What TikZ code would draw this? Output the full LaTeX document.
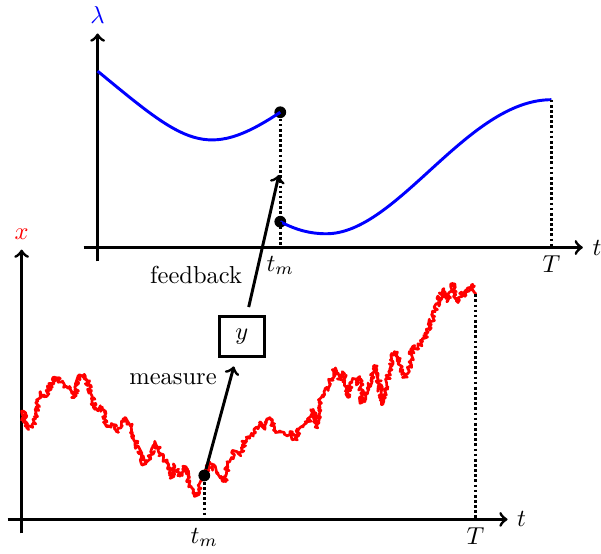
\documentclass[tikz,border=0pt]{standalone}
\usepackage{tikz}
\usetikzlibrary{positioning, calc, decorations.pathmorphing}

\begin{document}
\begin{tikzpicture}[
    axis/.style={very thick, ->},
    guide/.style={line width=1.1pt, densely dotted},
    dot/.style={circle, fill, inner sep=0pt, minimum size=4.8pt},
    obsbox/.style={draw, very thick, minimum width=0.65cm, minimum height=0.57cm, outer sep=4pt},
    link/.style={very thick, ->}
]
    \useasboundingbox (-0.31,-0.49) rectangle (8.31,7.45);
    \pgfmathsetseed{11}

    % Lower plot: the state x
    \draw[axis] (-0.2,0) -- (6.97,0) node[right] (tlo) {$t$};
    \draw[axis] (0,-0.2) -- (0,3.87) node[above, red] (xlab) {$x$};

    \draw[red, line width=1.1pt, line join=round, decorate,
          decoration={random steps, segment length=0.5pt, amplitude=1.1pt}]
        plot coordinates {(0,1.41) (0.03,1.55) (0.07,1.32) (0.16,1.32) (0.21,1.51)
        (0.26,1.82) (0.33,1.76) (0.37,1.84) (0.47,2.04) (0.57,1.97) (0.64,1.91)
        (0.69,1.87) (0.76,1.75) (0.83,2.05) (0.90,2.08) (0.98,1.87) (1.05,1.58)
        (1.16,1.61) (1.22,1.33) (1.31,1.36) (1.38,1.25) (1.48,1.46) (1.55,1.36)
        (1.66,1.05) (1.76,0.79) (1.84,0.86) (1.91,1.12) (2.00,0.93) (2.08,0.82)
        (2.15,0.60) (2.20,0.76) (2.27,0.62) (2.34,0.76) (2.41,0.47) (2.48,0.33)
        (2.55,0.43) (2.62,0.63) (2.70,0.82) (2.79,0.69) (2.91,0.55) (2.96,0.82)
        (3.06,0.98) (3.13,0.93) (3.22,1.18) (3.31,1.22) (3.41,1.39) (3.49,1.33)
        (3.56,1.46) (3.65,1.26) (3.77,1.22) (3.85,1.26) (3.92,1.15) (4.01,1.33)
        (4.13,1.43) (4.18,1.58) (4.23,1.33) (4.30,1.75) (4.42,1.94) (4.49,2.15)
        (4.56,2.01) (4.61,2.11) (4.68,1.75) (4.75,2.01) (4.82,1.94) (4.85,2.05)
        (4.89,1.68) (4.96,1.87) (5.02,2.01) (5.06,2.20) (5.11,2.05) (5.18,1.65)
        (5.28,2.15) (5.35,2.41) (5.39,2.40) (5.45,2.15) (5.49,2.04) (5.57,2.20)
        (5.61,2.48) (5.67,2.44) (5.75,2.55) (5.85,2.77) (5.93,2.98) (5.97,3.11)
        (6.04,3.30) (6.11,3.13) (6.18,3.37) (6.26,3.11) (6.31,3.26) (6.36,3.20)
        (6.43,3.33) (6.47,3.37) (6.51,3.23)};

    \node[dot] (mdot) at (2.62,0.63) {};
    \coordinate (xend) at (6.51,3.23);
    \coordinate (tmlo) at (2.62,0);
    \coordinate (Tlo) at (6.51,0);
    \draw[guide] (mdot) -- (tmlo);
    \draw[guide] (xend) -- (Tlo);
    \node[below] (tmlolab) at (tmlo) {$t_m$};
    \node[below] (Tlolab) at (Tlo) {$T$};

    % Measurement box
    \node[obsbox] (ybox) at (3.16,2.62) {$y$};

    % Upper plot: the control lambda
    \begin{scope}[shift={(1.09,3.90)}]
        \draw[axis] (-0.2,0) -- (6.96,0) node[right] (tup) {$t$};
        \draw[axis] (0,-0.2) -- (0,3.07) node[above, blue] (lamlab) {$\lambda$};

        \node[dot] (jumpa) at (2.62,1.94) {};
        \node[dot] (jumpb) at (2.62,0.37) {};
        \coordinate (lamend) at (6.51,2.12);
        \coordinate (tmup) at (2.62,0);
        \coordinate (Tup) at (6.51,0);
        \coordinate (fbtip) at (2.60,1.04);

        \draw[blue, very thick] (0,2.53) .. controls (1.25,1.5) and (1.55,1.23) .. (jumpa.center);
        \draw[blue, very thick] (jumpb.center) .. controls (2.85,0.25) and (3.05,0.197) .. (3.28,0.197)
            .. controls (4.3,0.197) and (5.3,2.12) .. (lamend);

        \draw[guide] (jumpa) -- (tmup);
        \draw[guide] (lamend) -- (Tup);
        \node[below] (tmuplab) at (tmup) {$t_m$};
        \node[below] (Tuplab) at (Tup) {$T$};
    \end{scope}

    % Measure and feedback
    \draw[link] (mdot) -- (ybox) node[pos=0.73, above left] {measure};
    \draw[link] (ybox) -- (fbtip) node[pos=0.1, above left] {feedback};
\end{tikzpicture}
\end{document}
